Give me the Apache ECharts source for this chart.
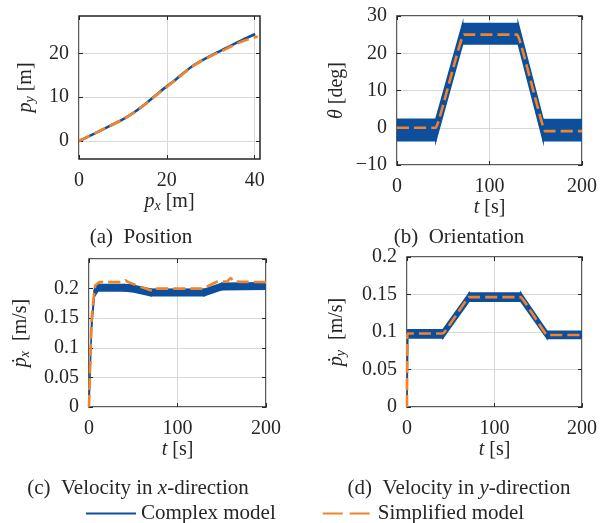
<!DOCTYPE html>
<html>
<head>
<meta charset="utf-8">
<script src="https://cdn.jsdelivr.net/npm/echarts@6/dist/echarts.min.js"></script>
<style>
  html, body { margin: 0; padding: 0; background: #fff; }
  #main { width: 600px; height: 523px; }
</style>
</head>
<body>
<div id="main"></div>
<script>
// (a) position
var pxComplex = [0, 3.5, 6.7, 10.5, 14.3, 18.5, 21.9, 25.7, 29.5, 33.3, 37.1, 40.1];
var pyComplex = [0, 1.7, 3.3, 5.2, 7.8, 11.3, 13.9, 17.0, 19.2, 21.1, 23.0, 24.4];
var pxSimple = [0, 3.5, 6.7, 10.5, 14.3, 18.5, 21.9, 25.7, 29.5, 33.3, 37.1, 40.7];
var pySimple = [0, 1.7, 3.3, 5.2, 7.8, 11.2, 13.8, 16.9, 19.1, 20.9, 22.7, 23.8];
var posTicksX = [0, 20, 40];
var posTicksY = [0, 10, 20];

// (b) orientation, complex model drawn as oscillation band (low / high)
var tTheta = [0, 42, 71, 131, 158, 200];
var thetaLo = [-3.5, -3.5, 22.5, 22.5, -3.5, -3.5];
var thetaHi = [2.3, 2.3, 28, 28, 2.2, 2.2];
var tThetaS = [0, 42, 72, 130, 160, 200];
var thetaS = [0, 0, 25, 25, -0.9, -0.9];

// (c) velocity x
var tVx = [0, 3, 6, 10, 40, 48, 70, 130, 150, 200];
var vxLo = [0, 0.135, 0.186, 0.196, 0.196, 0.195, 0.188, 0.188, 0.198, 0.199];
var vxHi = [0.003, 0.145, 0.198, 0.207, 0.207, 0.206, 0.199, 0.199, 0.209, 0.21];
var tVxS = [0, 3, 7, 12, 38, 41, 44, 68, 71, 74, 128, 146, 156, 160, 164, 200];
var vxS = [0, 0.15, 0.205, 0.211, 0.211, 0.214, 0.211, 0.198, 0.197, 0.2, 0.2, 0.212, 0.212, 0.218, 0.212, 0.211];

// (d) velocity y
var tVy = [0, 1, 41, 71, 130, 160, 200];
var vyLo = [0, 0.092, 0.092, 0.141, 0.141, 0.0915, 0.0915];
var vyHi = [0, 0.103, 0.103, 0.152, 0.152, 0.101, 0.101];
var tVyS = [0, 0.5, 41, 71, 130, 160, 200];
var vyS = [0, 0.098, 0.098, 0.1465, 0.1465, 0.096, 0.096];

var BLUE = '#0c4f9c';
var ORANGE = '#f2832a';
var FONT = 'Liberation Serif';
var INK = '#262626';
var GRIDC = '#d8d8d8';

function zip(a, b) { return a.map(function (v, i) { return [v, b[i]]; }); }

var rich = {
  n: { fontFamily: FONT, fontSize: 20, color: INK },
  i: { fontFamily: FONT, fontSize: 20, fontStyle: 'italic', color: INK },
  s: { fontFamily: FONT, fontSize: 14, fontStyle: 'italic', color: INK, verticalAlign: 'bottom', padding: [9, 0, 0, 0] }
};

function fmt(v) { return String(+v.toFixed(4)).replace('-', '\u2212'); }

var grids = [
  { left: 79, top: 16, width: 181, height: 143 },
  { left: 397, top: 16, width: 186, height: 149 },
  { left: 89, top: 259, width: 177, height: 148 },
  { left: 407, top: 257, width: 176, height: 150 }
];

var xDefs = [
  { min: 0, max: 41.2, ticks: posTicksX, name: '{i|p}{s|x}{n| [m]}', gap: 30 },
  { min: 0, max: 200, step: 100, name: '{i|t}{n| [s]}', gap: 32 },
  { min: 0, max: 200, step: 100, name: '{i|t}{n| [s]}', gap: 30 },
  { min: 0, max: 200, step: 100, name: '{i|t}{n| [s]}', gap: 30 }
];
var yDefs = [
  { min: -4.1, max: 28.5, ticks: posTicksY, name: '{i|p}{s|y}{n| [m]}', gap: 42 },
  { min: -10, max: 30, step: 10, name: '{i|\u03b8}{n| [deg]}', gap: 50 },
  { min: 0, max: 0.25, step: 0.05, hideMax: true, name: '{i|\u1e57}{s|x}{n|  [m/s]}', gap: 57 },
  { min: 0, max: 0.2, step: 0.05, name: '{i|\u1e57}{s|y}{n|  [m/s]}', gap: 59 }
];

function axisPair(d, k, main, pos) {
  var tick = { inside: true, length: 4, lineStyle: { color: INK } };
  var label = { formatter: fmt, fontFamily: FONT, fontSize: 20, color: INK, margin: pos === 'bottom' ? 12 : 10 };
  var split = { lineStyle: { color: GRIDC, width: 1 } };
  if (d.ticks) {
    tick.customValues = d.ticks;
    label.customValues = d.ticks;
    split.customValues = d.ticks;
  }
  if (d.hideMax) label.showMaxLabel = false;
  var ax = {
    type: 'value', gridIndex: k, min: d.min, max: d.max, position: pos,
    axisLine: { show: false, onZero: false }, axisTick: tick
  };
  if (d.step) ax.interval = d.step;
  if (main) {
    ax.name = d.name;
    ax.nameLocation = 'middle';
    ax.nameGap = d.gap;
    ax.nameTextStyle = { rich: rich };
    if (pos === 'left') ax.nameRotate = 90;
    ax.axisLabel = label;
    ax.splitLine = split;
  } else {
    ax.axisLabel = { show: false };
    ax.splitLine = { show: false };
  }
  return ax;
}

var xAxis = [], yAxis = [];
grids.forEach(function (g, k) {
  xAxis.push(axisPair(xDefs[k], k, true, 'bottom'));
  xAxis.push(axisPair(xDefs[k], k, false, 'top'));
  yAxis.push(axisPair(yDefs[k], k, true, 'left'));
  yAxis.push(axisPair(yDefs[k], k, false, 'right'));
});

// oscillation band of the complex model: one quad per segment of the lo/hi arrays
function band(k, t, lo, hi) {
  var segs = [];
  for (var i = 0; i < t.length - 1; i++) {
    segs.push([t[i], lo[i], hi[i], t[i + 1], lo[i + 1], hi[i + 1]]);
  }
  return {
    name: 'Complex model', type: 'custom', xAxisIndex: 2 * k, yAxisIndex: 2 * k,
    clip: true, silent: true, z: 3,
    encode: { x: [0, 3], y: [1, 2, 4, 5] },
    renderItem: function (params, api) {
      var a = api.coord([api.value(0), api.value(1)]);
      var b = api.coord([api.value(3), api.value(4)]);
      var c = api.coord([api.value(3), api.value(5)]);
      var e = api.coord([api.value(0), api.value(2)]);
      return {
        type: 'polygon', shape: { points: [a, b, c, e] },
        style: { fill: BLUE, stroke: BLUE, lineWidth: 1.5 }
      };
    },
    data: segs
  };
}

function dashed(k, t, v, smooth) {
  return {
    name: 'Simplified model', type: 'line', xAxisIndex: 2 * k, yAxisIndex: 2 * k,
    showSymbol: false, symbol: 'none', smooth: smooth, z: 5,
    itemStyle: { color: ORANGE },
    lineStyle: { color: ORANGE, width: 2.6, type: [12, 5] }, data: zip(t, v)
  };
}

var series = [
  {
    name: 'Complex model', type: 'line', xAxisIndex: 0, yAxisIndex: 0,
    showSymbol: false, symbol: 'none', smooth: 0.3,
    itemStyle: { color: BLUE },
    lineStyle: { color: BLUE, width: 2.6 }, data: zip(pxComplex, pyComplex)
  },
  dashed(0, pxSimple, pySimple, 0.3),
  band(1, tTheta, thetaLo, thetaHi), dashed(1, tThetaS, thetaS, 0.05),
  band(2, tVx, vxLo, vxHi), dashed(2, tVxS, vxS, 0.1),
  band(3, tVy, vyLo, vyHi), dashed(3, tVyS, vyS, 0.05)
];

var capStyle = { fontFamily: FONT, fontSize: 21, fill: INK, textAlign: 'center', textVerticalAlign: 'middle',
  rich: { i: { fontFamily: FONT, fontSize: 21, fontStyle: 'italic', fill: INK } } };
function caption(x, y, text) {
  return { type: 'text', x: x, y: y, style: Object.assign({}, capStyle, { text: text }) };
}

var chart = echarts.init(document.getElementById('main'), null, { renderer: 'canvas' });
chart.setOption({
  animation: false,
  backgroundColor: '#fff',
  grid: grids.map(function (g) {
    return Object.assign({ show: true, borderColor: INK, borderWidth: 1.5, backgroundColor: 'transparent' }, g);
  }),
  xAxis: xAxis,
  yAxis: yAxis,
  series: series,
  legend: {
    left: 80, top: 498, itemWidth: 50, itemHeight: 20, itemGap: 46,
    itemStyle: { opacity: 0 },
    textStyle: { fontFamily: FONT, fontSize: 21, color: INK },
    data: [
      { name: 'Complex model' },
      { name: 'Simplified model', lineStyle: { type: [20, 7] } }
    ]
  },
  graphic: [
    caption(141, 237, '(a)  Position'),
    caption(459, 237, '(b)  Orientation'),
    caption(138, 488, '(c)  Velocity in {i|x}-direction'),
    caption(459, 488, '(d)  Velocity in {i|y}-direction')
  ]
});
</script>
</body>
</html>
